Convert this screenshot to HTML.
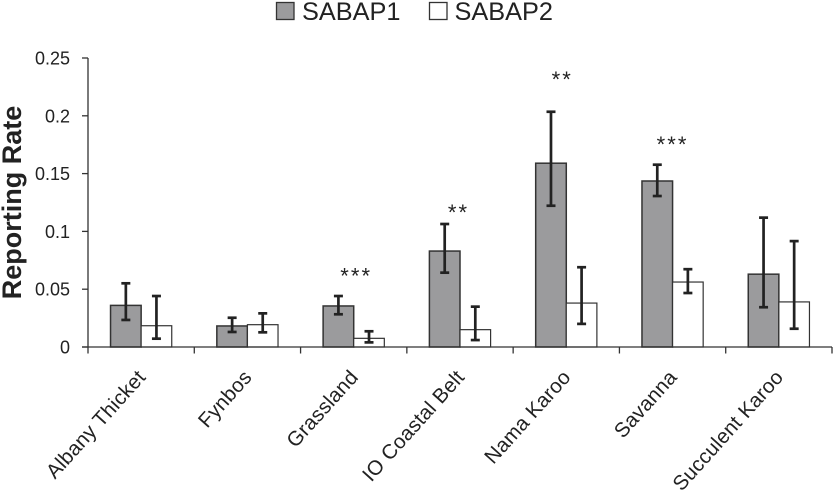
<!DOCTYPE html>
<html>
<head>
<meta charset="utf-8">
<style>
html,body{margin:0;padding:0;background:#fff;}
svg{display:block;font-family:"Liberation Sans",sans-serif;}
</style>
</head>
<body>
<svg id="chart" width="833" height="493" viewBox="0 0 833 493"></svg>
<script>
const categories = ["Albany Thicket","Fynbos","Grassland","IO Coastal Belt","Nama Karoo","Savanna","Succulent Karoo"];
const sabap1Values = [0.036,0.0182,0.0355,0.083,0.159,0.1436,0.063];
const sabap1Low = [0.0234,0.013,0.0283,0.0643,0.1222,0.1306,0.0344];
const sabap1High = [0.0551,0.0253,0.0441,0.1064,0.2035,0.1577,0.1119];
const sabap2Values = [0.0184,0.0193,0.0075,0.015,0.038,0.0562,0.039];
const sabap2Low = [0.0072,0.0127,0.004,0.006,0.020,0.0467,0.0158];
const sabap2High = [0.0441,0.0291,0.0136,0.0349,0.069,0.0673,0.0916];
const significance = ["","","***","**","**","***",""];
const significanceLevels = [0,0,0.0644,0.1194,0.2344,0.178,0];
const yTicks = [0,0.05,0.1,0.15,0.2,0.25];
const yTickLabels = ["0","0.05","0.1","0.15","0.2","0.25"];
const seriesNames = ["SABAP1","SABAP2"];

const svg = document.getElementById('chart');
const NS = 'http://www.w3.org/2000/svg';
const plotLeft = 88, plotRight = 832, plotTop = 58, plotBottom = 347, yMax = 0.25;
const groupWidth = (plotRight - plotLeft) / categories.length;
const barWidth = 30.6;
const y = v => plotBottom - (v / yMax) * (plotBottom - plotTop);
const xCenter = i => plotLeft + groupWidth * (i + 0.5);

function add(tag, attrs, text) {
  const el = document.createElementNS(NS, tag);
  for (const k in attrs) el.setAttribute(k, attrs[k]);
  if (text !== undefined) el.textContent = text;
  svg.appendChild(el);
  return el;
}
function seg(x1, y1, x2, y2, color, w) {
  return add('line', {x1, y1, x2, y2, stroke: color, 'stroke-width': w});
}

// y axis
let el = seg(plotLeft, plotTop, plotLeft, plotBottom, '#333', 1.3);


yTicks.forEach((t, i) => {
  let tick = seg(plotLeft - 6, y(t), plotLeft, y(t), '#333', 1.3);
  
  
  let lab = add('text', {x: plotLeft - 18, y: y(t) + 6.5, 'text-anchor': 'end', 'font-size': 18, fill: '#222'}, yTickLabels[i]);
  
  
});

// bars and error bars
const significanceNudge = [0, 0, 1.5, -2.5, -5, -1, 0];
categories.forEach((c, i) => {
  const cx = xCenter(i);
  let b1 = add('rect', {x: cx - barWidth, y: y(sabap1Values[i]), width: barWidth, height: plotBottom - y(sabap1Values[i]), fill: '#9b9b9d', stroke: '#333', 'stroke-width': 1.5});
  
  
  let b2 = add('rect', {x: cx, y: y(sabap2Values[i]), width: barWidth, height: plotBottom - y(sabap2Values[i]), fill: '#fff', stroke: '#333', 'stroke-width': 1.2});
  
  

  const drawErr = (x, lo, hi, name) => {
    const g = document.createElementNS(NS, 'g');
    
    
    [[x, y(lo), x, y(hi)], [x - 4.5, y(lo), x + 4.5, y(lo)], [x - 4.5, y(hi), x + 4.5, y(hi)]].forEach(p => {
      const l = seg(p[0], p[1], p[2], p[3], '#222', 2.7);
      g.appendChild(l);
    });
    svg.appendChild(g);
  };
  drawErr(cx - barWidth / 2, sabap1Low[i], sabap1High[i], 'error-bar-sabap1');
  drawErr(cx + barWidth / 2, sabap2Low[i], sabap2High[i], 'error-bar-sabap2');

  if (significance[i]) {
    let s = add('text', {x: cx + significanceNudge[i] + 1, y: y(significanceLevels[i]) + 10.8, 'text-anchor': 'middle', 'font-size': 22, fill: '#222', 'letter-spacing': 2.1}, significance[i]);
    
    
  }

  const lx = cx + 5.5, ly = plotBottom + 31;
  let lab = add('text', {x: lx, y: ly, 'text-anchor': 'end', 'font-size': 20.5, 'letter-spacing': 0.2, fill: '#222', transform: `rotate(-48 ${lx} ${ly})`}, c);
  
  
});

// x axis
el = seg(plotLeft - 6, plotBottom, plotRight, plotBottom, '#333', 1.3);


for (let i = 0; i <= categories.length; i++) {
  const tx = plotLeft + groupWidth * i;
  let tick = seg(tx, plotBottom, tx, plotBottom + 6.5, '#333', 1.3);
  
  
}

// y axis title
el = add('text', {x: 21, y: 202.5, 'text-anchor': 'middle', 'font-size': 27, 'font-weight': 'bold', fill: '#222', transform: 'rotate(-90 21 202.5)'}, 'Reporting Rate');



// legend
el = add('rect', {x: 276.5, y: 2.5, width: 17.5, height: 17, fill: '#9b9b9d', stroke: '#333', 'stroke-width': 1.3});


el = add('text', {x: 302, y: 20, 'font-size': 25.3, fill: '#222'}, seriesNames[0]);


el = add('rect', {x: 429.5, y: 2.5, width: 17.5, height: 17, fill: '#fff', stroke: '#333', 'stroke-width': 1.3});


el = add('text', {x: 454.5, y: 20, 'font-size': 25.3, fill: '#222'}, seriesNames[1]);


</script>
</body>
</html>
